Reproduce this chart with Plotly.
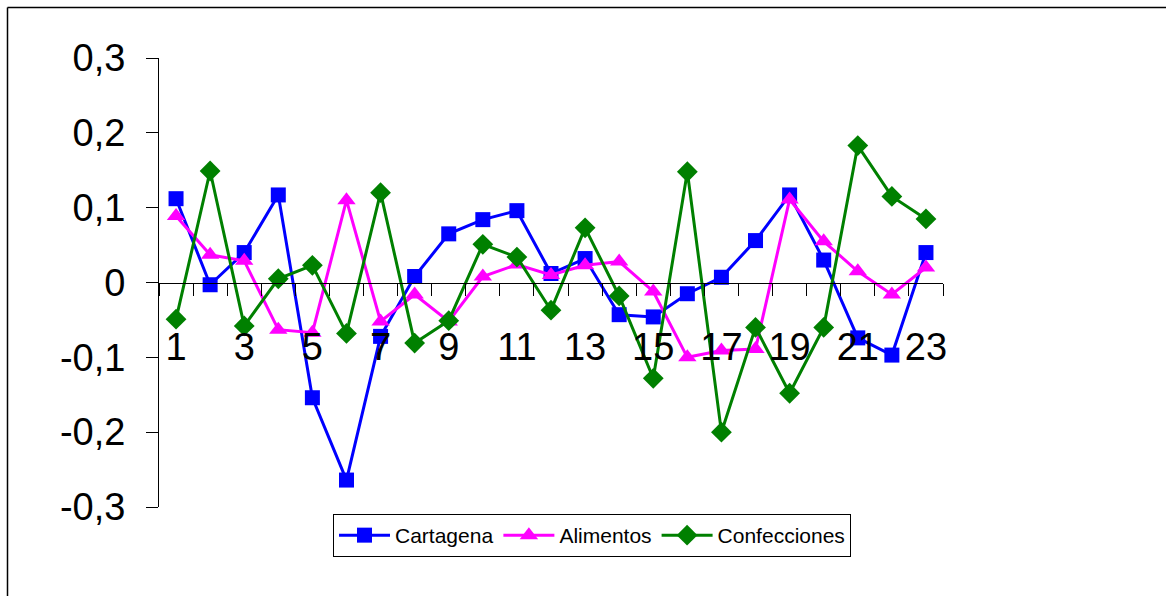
import plotly.graph_objects as go

# Observation index (1..23) and the three series
periodos = list(range(1, 24))

cartagena = [0.112, -0.003, 0.040, 0.117, -0.154, -0.264, -0.072, 0.008, 0.065, 0.084,
             0.096, 0.012, 0.032, -0.043, -0.046, -0.015, 0.007, 0.056, 0.117, 0.030,
             -0.074, -0.097, 0.040]
alimentos = [0.089, 0.037, 0.029, -0.063, -0.067, 0.110, -0.052, -0.016, -0.052, 0.008,
             0.024, 0.010, 0.023, 0.028, -0.012, -0.100, -0.091, -0.089, 0.111, 0.055,
             0.015, -0.016, 0.020]
confecciones = [-0.049, 0.149, -0.058, 0.005, 0.023, -0.068, 0.120, -0.081, -0.051, 0.051,
                0.034, -0.037, 0.073, -0.018, -0.128, 0.148, -0.200, -0.060, -0.148, -0.060,
                0.183, 0.115, 0.085]

y_ticks = [-0.3, -0.2, -0.1, 0, 0.1, 0.2, 0.3]
y_ticktext = ["-0,3", "-0,2", "-0,1", "0", "0,1", "0,2", "0,3"]
x_label_vals = [p for p in periodos if p % 2 == 1]

FONT = "Liberation Sans, Arial, sans-serif"
W, H = 1166, 596
ML, MR, MT, MB = 159, 223, 58, 89
y_range = [-0.3, 0.3]
x_range = [0.5, 23.5]
zero_pos = (0 - y_range[0]) / (y_range[1] - y_range[0])

fig = go.Figure()

series = [
    ("Cartagena", cartagena, "#0000FF", "square", 15),
    ("Alimentos", alimentos, "#FF00FF", "triangle-up", 16),
    ("Confecciones", confecciones, "#008000", "diamond", 16),
]
for name, vals, color, symbol, size in series:
    fig.add_trace(go.Scatter(
        x=periodos, y=vals, name=name, mode="lines+markers",
        line=dict(color=color, width=3),
        marker=dict(color=color, symbol=symbol, size=size, line=dict(width=0)),
        xaxis="x", yaxis="y", cliponaxis=False,
    ))

# Category boundaries for the tick marks on the zero line
boundaries = [p - 0.5 for p in periodos] + [periodos[-1] + 0.5]

# Outer chart frame (extends past the right and bottom edges)
pw = W - ML - MR
ph = H - MT - MB
frame_left = (7.5 - ML) / pw
frame_top = (H - MB - 7.5) / ph
fig.add_shape(type="line", xref="paper", yref="paper",
              x0=frame_left, x1=(W + 10 - ML) / pw, y0=frame_top, y1=frame_top,
              line=dict(color="black", width=1.5))
fig.add_shape(type="line", xref="paper", yref="paper",
              x0=frame_left, x1=frame_left, y0=frame_top, y1=(H - MB - H - 10) / ph,
              line=dict(color="black", width=1.5))

fig.update_layout(
    width=W, height=H,
    margin=dict(l=ML, r=MR, t=MT, b=MB),
    paper_bgcolor="white", plot_bgcolor="white",
    font=dict(family=FONT, color="black"),
    showlegend=True,
    legend=dict(
        orientation="h", x=(333 - ML) / pw, y=(H - MB - 514) / ph,
        xanchor="left", yanchor="top",
        bordercolor="black", borderwidth=1,
        font=dict(size=21, family=FONT),
        itemsizing="trace", tracegroupgap=0, itemwidth=51,
    ),
    xaxis=dict(
        range=x_range, anchor="free", position=zero_pos,
        tickmode="array", tickvals=boundaries, showticklabels=False,
        ticks="outside", ticklen=12, tickcolor="black",
        showline=True, linecolor="black", linewidth=1,
        showgrid=False, zeroline=False,
    ),
    xaxis2=dict(
        range=x_range, anchor="free", position=zero_pos, overlaying="x",
        side="bottom",
        tickmode="array", tickvals=x_label_vals,
        ticktext=[str(v) for v in x_label_vals],
        ticks="", ticklabelstandoff=38,
        tickfont=dict(size=38, family=FONT),
        showline=False, showgrid=False, zeroline=False,
    ),
    yaxis=dict(
        range=y_range, tickmode="array", tickvals=y_ticks, ticktext=y_ticktext,
        ticks="outside", ticklen=12, tickcolor="black",
        ticklabelstandoff=13,
        tickfont=dict(size=38, family=FONT),
        showline=True, linecolor="black", linewidth=1,
        showgrid=False, zeroline=False,
    ),
)

# Invisible point so the label axis is drawn
fig.add_trace(go.Scatter(x=[x_range[0]], y=[0], xaxis="x2", yaxis="y",
                         mode="markers", marker=dict(opacity=0),
                         showlegend=False, hoverinfo="skip"))

fig.write_html("out.html")
